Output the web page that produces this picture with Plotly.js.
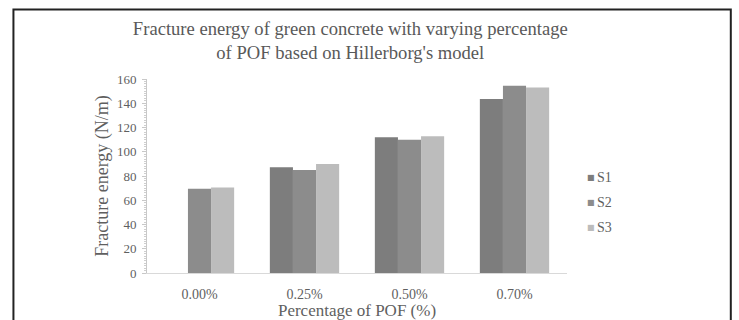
<!DOCTYPE html>
<html>
<head>
<meta charset="utf-8">
<script src="https://cdn.plot.ly/plotly-3.0.1.min.js"></script>
<style>
html,body{margin:0;padding:0;background:#fff;}
#chart{width:739px;height:320px;}
</style>
</head>
<body>
<div id="chart"></div>
<script>
const categories = ["0.00%", "0.25%", "0.50%", "0.70%"];
const seriesNames = ["S1", "S2", "S3"];
const s1 = [0, 87.3, 112, 143.5];
const s2 = [69.5, 85, 110, 154.5];
const s3 = [70.5, 90, 112.8, 153];
const yTicks = [0, 20, 40, 60, 80, 100, 120, 140, 160];
const colors = ["#7d7d7d", "#8c8c8c", "#bcbcbc"];

const values = [s1, s2, s3];
const traces = seriesNames.map((n, i) => ({
  type: "bar",
  name: n,
  x: categories,
  y: values[i],
  marker: {color: colors[i], line: {width: 0}},
  hoverinfo: "x+y+name",
  showlegend: false
}));

const font = "Liberation Serif, Times New Roman, serif";
const textColor = "#5f5f5f";

// legend drawn as annotations (small square + label), positioned in paper coordinates
const legendX = 1.058, legendY0 = 0.49, legendStep = 0.128;
const annotations = [];
seriesNames.forEach((n, i) => {
  const y = legendY0 - i * legendStep;
  annotations.push({
    xref: "paper", yref: "paper", x: legendX, y: y,
    xanchor: "center", yanchor: "middle", showarrow: false,
    text: "\u25A0", font: {family: "DejaVu Sans", size: 8, color: colors[i]}
  });
  annotations.push({
    xref: "paper", yref: "paper", x: legendX + 0.008, y: y,
    xanchor: "left", yanchor: "middle", showarrow: false,
    text: n, font: {family: font, size: 14, color: textColor}
  });
});

const layout = {
  width: 739, height: 320,
  margin: {l: 146.5, r: 171.5, t: 79, b: 47},
  paper_bgcolor: "#fff",
  plot_bgcolor: "#fff",
  font: {family: font, color: textColor, size: 12},
  title: {
    text: "Fracture energy of green concrete with varying percentage<br>of POF based on Hillerborg's model",
    font: {family: font, size: 18.6, color: "#595959"},
    x: 0.474, xref: "container", xanchor: "center",
    y: 0.89, yref: "container", yanchor: "middle"
  },
  barmode: "group",
  bargap: 0.34,
  bargroupgap: 0,
  xaxis: {
    type: "category",
    showgrid: false,
    showline: true, linecolor: "#d9d9d9", linewidth: 1,
    ticks: "", ticklabelstandoff: 8,
    tickfont: {family: font, size: 14, color: textColor},
    title: {text: "Percentage of POF (%)", font: {family: font, size: 17, color: textColor}, standoff: 5},
    fixedrange: true
  },
  yaxis: {
    range: [0, 160],
    tickvals: yTicks,
    showgrid: false, zeroline: false,
    showline: true, linecolor: "#c8c8c8", linewidth: 1,
    ticks: "outside", ticklen: 4, tickcolor: "#c8c8c8",
    ticklabelstandoff: 3,
    minor: {ticks: "outside", dtick: 2, ticklen: 2, tickcolor: "#cfcfcf"},
    tickfont: {family: font, size: 13, color: textColor},
    title: {text: "Fracture energy (N/m)", font: {family: font, size: 18, color: textColor}, standoff: 3},
    fixedrange: true
  },
  annotations: annotations,
  shapes: [{
    type: "rect", xref: "paper", yref: "paper",
    x0: -0.318, x1: 1.39, y0: -0.4, y1: 1.358,
    line: {color: "#222", width: 2}, fillcolor: "rgba(0,0,0,0)", layer: "below"
  }],
  showlegend: false
};

Plotly.newPlot("chart", traces, layout, {displayModeBar: false, staticPlot: true});
</script>
</body>
</html>
